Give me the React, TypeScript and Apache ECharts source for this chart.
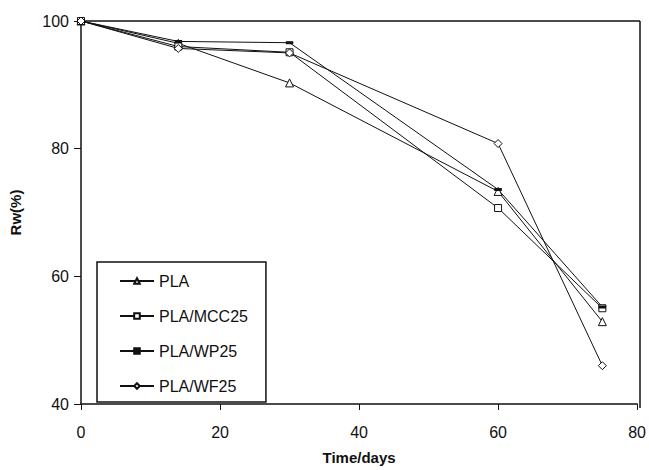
import React, { useEffect, useRef } from "react";
import * as echarts from "echarts";

const days = [0, 14, 30, 60, 75];
const pla = [100, 96.5, 90.3, 73.3, 52.9];
const mcc25 = [100, 96.0, 95.1, 70.7, 55.0];
const wp25 = [100, 96.8, 96.6, 73.6, 55.2];
const wf25 = [100, 95.7, 95.0, 80.8, 46.0];
const seriesNames = ["PLA", "PLA/MCC25", "PLA/WP25", "PLA/WF25"];

const pairs = (ys: number[]) => days.map((d, i) => [d, ys[i]]);

export default function App() {
  const ref = useRef<HTMLDivElement>(null);
  useEffect(() => {
    const chart = echarts.init(ref.current!, null, { renderer: "svg" });
    const font = "Liberation Sans, Arial, sans-serif";
    const base = {
      type: "line",
      lineStyle: { color: "#111", width: 1 },
      itemStyle: { color: "#fff", borderColor: "#111", borderWidth: 1 },
      emphasis: { disabled: true },
    };
    chart.setOption({
      animation: false,
      backgroundColor: "#fff",
      grid: { left: 81, right: 9, top: 21, bottom: 62, containLabel: false },
      xAxis: {
        type: "value",
        min: 0,
        max: 80,
        interval: 20,
        name: "Time/days",
        nameLocation: "middle",
        nameGap: 46,
        nameTextStyle: { fontFamily: font, fontWeight: "bold", fontSize: 15, color: "#111" },
        axisLine: { lineStyle: { color: "#111", width: 1.5 } },
        axisTick: { show: true, inside: false, length: 6, lineStyle: { color: "#111" } },
        axisLabel: { fontFamily: font, fontSize: 16, color: "#111", margin: 20 },
        splitLine: { show: false },
      },
      yAxis: {
        type: "value",
        min: 40,
        max: 100,
        interval: 20,
        name: "Rw(%)",
        nameLocation: "middle",
        nameGap: 58,
        nameRotate: 90,
        nameTextStyle: { fontFamily: font, fontWeight: "bold", fontSize: 15, color: "#111" },
        axisLine: { show: true, lineStyle: { color: "#111", width: 1.5 } },
        axisTick: { show: true, inside: false, length: 7, lineStyle: { color: "#111" } },
        axisLabel: { fontFamily: font, fontSize: 16, color: "#111", margin: 12 },
        splitLine: { show: false },
      },
      legend: {
        orient: "vertical",
        left: 97,
        top: 262,
        width: 176,
        height: 136,
        padding: [11, 18, 8, 22],
        itemGap: 19,
        itemWidth: 34,
        itemHeight: 7,
        borderColor: "#111",
        borderWidth: 1.5,
        backgroundColor: "#fff",
        textStyle: { fontFamily: font, fontSize: 16, color: "#111" },
        data: seriesNames,
      },
      graphic: [
        {
          type: "line",
          shape: { x1: 81, y1: 21, x2: 640, y2: 21 },
          style: { stroke: "#111", lineWidth: 1.5 },
        },
        {
          type: "line",
          shape: { x1: 640, y1: 21, x2: 640, y2: 408 },
          style: { stroke: "#111", lineWidth: 1.5 },
        },
      ],
      series: [
        { ...base, name: seriesNames[0], data: pairs(pla), symbol: "triangle", symbolSize: 8 },
        { ...base, name: seriesNames[1], data: pairs(mcc25), symbol: "rect", symbolSize: 7 },
        {
          ...base,
          name: seriesNames[2],
          data: pairs(wp25),
          symbol: "rect",
          symbolSize: [5, 2],
          itemStyle: { color: "#111", borderColor: "#111", borderWidth: 1 },
        },
        { ...base, name: seriesNames[3], data: pairs(wf25), symbol: "diamond", symbolSize: 8 },
      ],
    });
    return () => chart.dispose();
  }, []);
  return <div ref={ref} style={{ width: 649, height: 470, position: "absolute", left: 0, top: 0 }} />;
}
